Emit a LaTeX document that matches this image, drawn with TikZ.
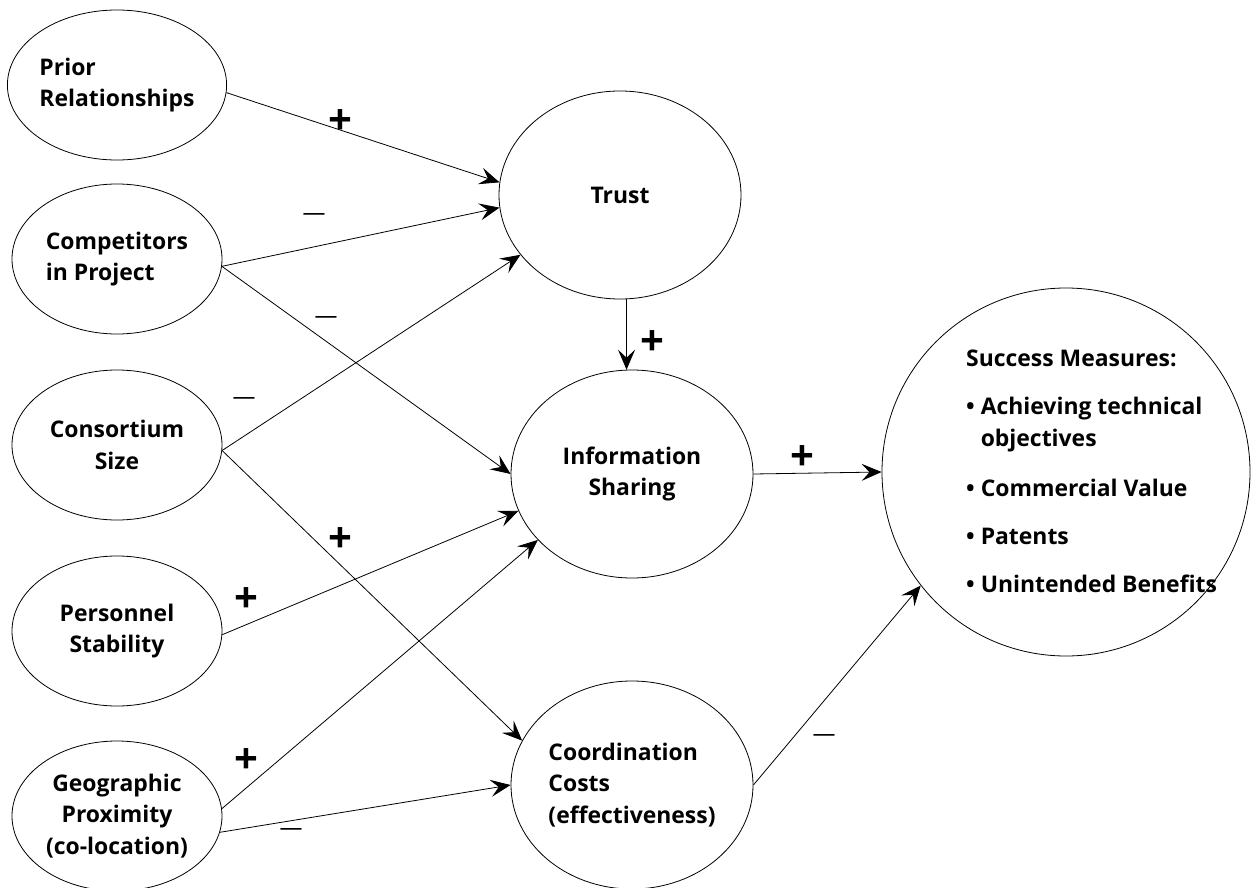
\documentclass[tikz,border=0pt]{standalone}
\usepackage{fontspec}
\setmainfont{Open Sans}
\usepackage{tikz}
\usetikzlibrary{shapes.geometric}
\usetikzlibrary{arrows.meta}

\begin{document}
\begin{tikzpicture}[x=1bp,y=-1bp,
    blob/.style={ellipse, draw, line width=0.8bp, inner sep=0pt,
      font=\bfseries\fontsize{23}{32}\selectfont},
    cause/.style={blob, minimum width=210bp, minimum height=150bp},
    factor/.style={blob, minimum width=242bp, minimum height=208bp},
    conn/.style={draw, line width=0.8bp, -{Stealth[length=20bp,width=17bp,inset=8bp]}},
    signplus/.style={inner sep=0pt, font=\bfseries\fontsize{42}{42}\selectfont},
    signminus/.style={inner sep=0pt, font=\fontsize{23}{23}\selectfont}]
  % Boundary
  \useasboundingbox (0,0) rectangle (1251,888);
  % Causes
  \node[cause, align=left] (prior) at (117,85) {Prior\\Relationships};
  \node[cause, align=left] (comp) at (117,259) {Competitors\\in Project};
  \node[cause, align=center] (cons) at (117,445) {Consortium\\Size};
  \node[cause, align=center] (pers) at (117,631) {Personnel\\Stability};
  \node[cause, align=center] (geo) at (117,816) {Geographic\\Proximity\\(co-location)};
  % Mediators
  \node[factor] (trust) at (620,195) {Trust};
  \node[factor, align=center] (info) at (632,474) {Information\\Sharing};
  \node[factor, align=left] (coord) at (632,785) {Coordination\\Costs\\(effectiveness)};
  % Outcome
  \node[blob, circle, minimum size=368bp] (success) at (1066,472) {};
  \node[anchor=north west, inner sep=0pt, align=left,
    font=\bfseries\fontsize{23}{32}\selectfont] (measures) at (966,350)
    {Success Measures:\\[16bp]
     \textbullet\ Achieving technical\\
     \hphantom{\textbullet\ }objectives\\[18bp]
     \textbullet\ Commercial Value\\[16bp]
     \textbullet\ Patents\\[16bp]
     \textbullet\ Unintended Benefits};
  % Links
  \draw[conn] (prior.-4) -- (trust.174);
  \draw[conn] (comp.-4) -- (trust.186);
  \draw[conn] (comp.-4) -- (info.west);
  \draw[conn] (cons.-3) -- (trust.211);
  \draw[conn] (cons.-3) -- (coord.158);
  \draw[conn] (pers.-2) -- (info.198);
  \draw[conn] (geo.4) -- (info.215);
  \draw[conn] (geo.-9) -- (coord.west);
  \draw[conn] (trust.south -| info.93) -- (info.93);
  \draw[conn] (info.east) -- (success.west);
  \draw[conn] (coord.east) -- (success.218);
  % Signs
  \node[signplus] (s1) at (340,122) {+};
  \node[signminus] (s2) at (314,217) {\textemdash};
  \node[signminus] (s3) at (326,320) {\textemdash};
  \node[signminus] (s4) at (244,401) {\textemdash};
  \node[signplus] (s5) at (340,540) {+};
  \node[signplus] (s6) at (246,600) {+};
  \node[signplus] (s7) at (246,761) {+};
  \node[signminus] (s8) at (291,832) {\textemdash};
  \node[signplus] (s9) at (652,343) {+};
  \node[signplus] (s10) at (802,458) {+};
  \node[signminus] (s11) at (824,738) {\textemdash};
\end{tikzpicture}
\end{document}
